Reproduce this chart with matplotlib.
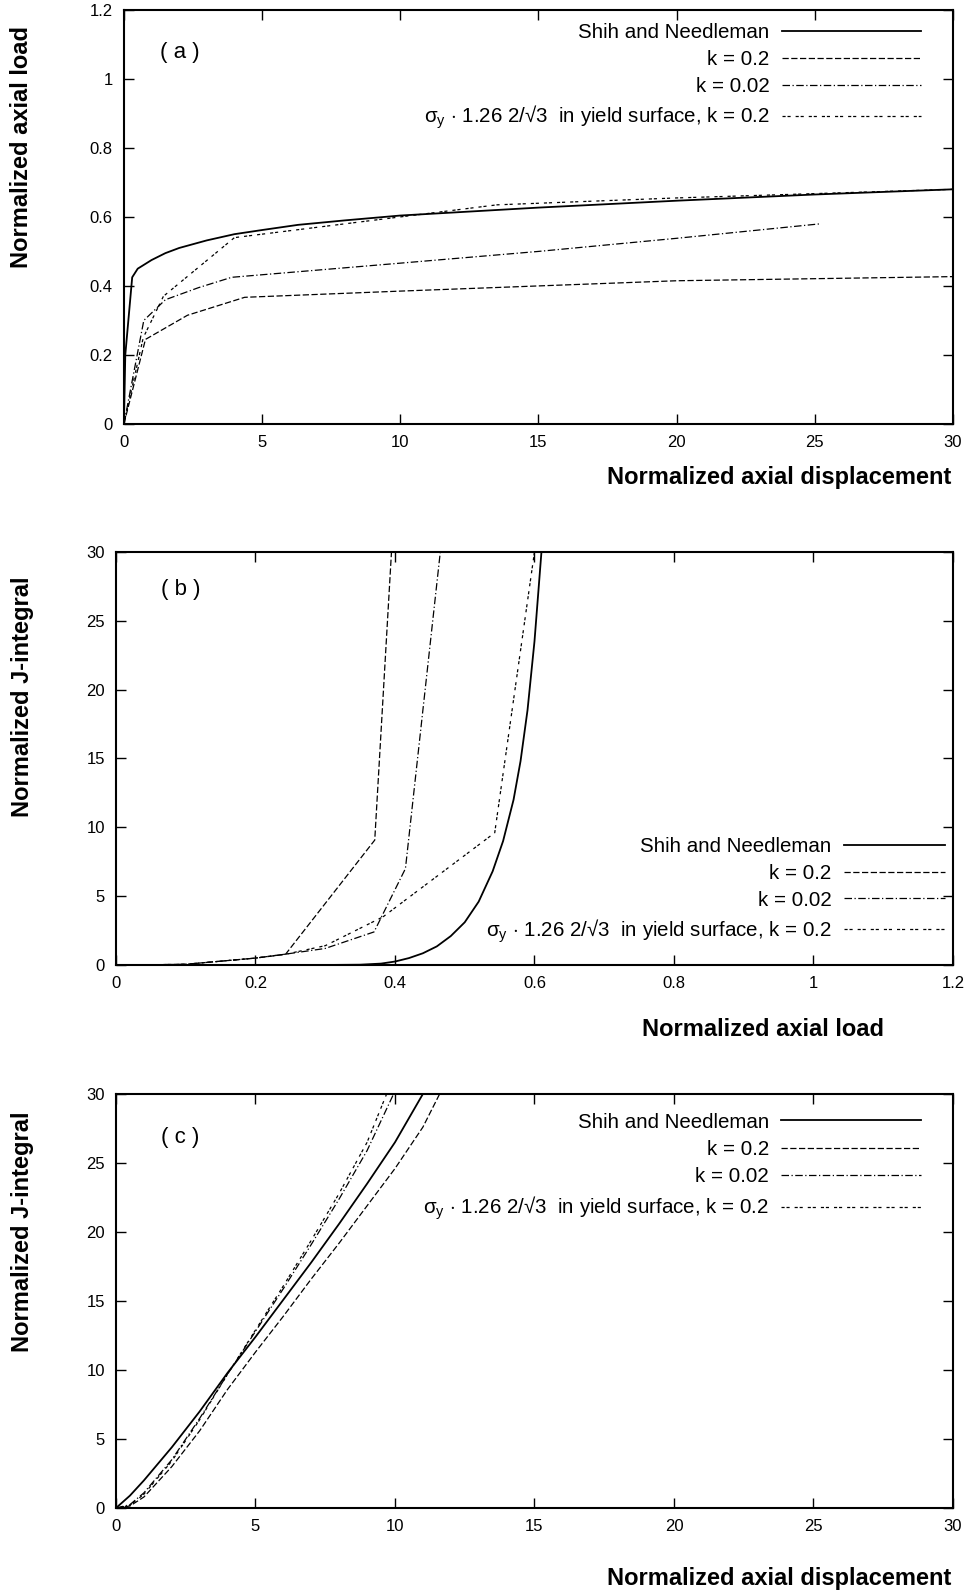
import matplotlib
matplotlib.use("Agg")
import matplotlib.pyplot as plt

plt.rcParams['font.family'] = ['Liberation Sans', 'DejaVu Sans']
plt.rcParams['mathtext.fontset'] = 'custom'
plt.rcParams['mathtext.rm'] = 'Liberation Sans'
plt.rcParams['mathtext.it'] = 'Liberation Sans:italic'

# labels
lab_shih = 'Shih and Needleman'
lab_k02 = 'k = 0.2'
lab_k002 = 'k = 0.02'
lab_sig = 'σ$_{\\rm y}$ $\\cdot$ 1.26 2/√3  in yield surface, k = 0.2'

# (a) axial load vs axial displacement
a_shih_x = [0, 0.05, 0.3, 0.5, 1.0, 1.5, 2.0, 3.0, 4.0, 5.0, 6.3, 8.0, 10, 15, 20, 25, 30]
a_shih_y = [0, 0.2, 0.425, 0.45, 0.475, 0.495, 0.51, 0.532, 0.55, 0.562, 0.577, 0.59, 0.604, 0.627, 0.647, 0.665, 0.68]
a_k02_x = [0, 0.78, 2.3, 4.37, 10, 20, 30]
a_k02_y = [0, 0.245, 0.315, 0.367, 0.385, 0.415, 0.427]
a_k002_x = [0, 0.72, 1.5, 2.7, 3.9, 10, 15, 20, 25.2]
a_k002_y = [0, 0.3, 0.36, 0.395, 0.425, 0.466, 0.5, 0.538, 0.58]
a_sig_x = [0, 0.7, 1.43, 4.0, 13.5, 20, 30]
a_sig_y = [0, 0.25, 0.37, 0.54, 0.635, 0.655, 0.68]

# (b) J-integral vs axial load
b_shih_x = [0.3, 0.35, 0.38, 0.4, 0.42, 0.44, 0.46, 0.48, 0.5, 0.52, 0.54, 0.555, 0.57, 0.58, 0.59, 0.6, 0.61]
b_shih_y = [0, 0.02, 0.1, 0.25, 0.5, 0.85, 1.35, 2.1, 3.1, 4.6, 6.8, 9.0, 12.0, 14.8, 18.5, 23.5, 30]
b_k02_x = [0.03, 0.1, 0.2, 0.243, 0.371, 0.395]
b_k02_y = [0, 0.05, 0.5, 0.77, 9.07, 30]
b_k002_x = [0.03, 0.1, 0.2, 0.245, 0.3, 0.37, 0.415, 0.465]
b_k002_y = [0, 0.05, 0.5, 0.8, 1.2, 2.4, 7.0, 30]
b_sig_x = [0.03, 0.1, 0.2, 0.245, 0.3, 0.383, 0.543, 0.6]
b_sig_y = [0, 0.05, 0.5, 0.8, 1.4, 3.5, 9.6, 30]

# (c) J-integral vs axial displacement
c_shih_x = [0, 0.5, 1, 2, 3, 4, 5, 6, 7, 8, 9, 10, 11.0]
c_shih_y = [0, 0.9, 2.0, 4.4, 7.0, 9.8, 12.4, 15.1, 17.8, 20.6, 23.5, 26.5, 30]
c_k02_x = [0, 0.5, 1, 2, 3, 4, 5, 6, 7, 8, 9, 10, 11, 11.6]
c_k02_y = [0, 0.15, 0.8, 3.0, 5.6, 8.6, 11.3, 13.9, 16.6, 19.2, 21.9, 24.6, 27.6, 30]
c_k002_x = [0, 0.5, 1, 2, 3, 4, 5, 6, 7, 8, 9, 9.95]
c_k002_y = [0, 0.25, 1.1, 3.5, 6.5, 9.7, 12.8, 15.9, 19.1, 22.4, 25.9, 30]
c_sig_x = [0, 0.5, 1, 2, 3, 4, 5, 6, 7, 8, 9, 9.7]
c_sig_y = [0, 0.2, 1.0, 3.4, 6.4, 9.7, 12.9, 16.1, 19.4, 22.8, 26.5, 30]

styles = {
    'shih': dict(color='black', lw=1.3, linestyle='-'),
    'k02': dict(color='black', lw=0.9, dashes=(5, 2)),
    'k002': dict(color='black', lw=0.9, dashes=(6, 2, 1, 2)),
    'sig': dict(color='black', lw=0.9, dashes=(2.5, 1.5, 2.5, 4)),
}

fig = plt.figure(figsize=(9.68, 15.95), dpi=100)
ax_a = fig.add_axes([0.128, 0.7342, 0.8564, 0.2596])
ax_b = fig.add_axes([0.1198, 0.395, 0.8647, 0.259])
ax_c = fig.add_axes([0.1198, 0.0545, 0.8647, 0.2596])


def style_axes(ax):
    ax.tick_params(direction='in', top=True, right=True, length=7, width=1,
                   labelsize=12, pad=8)
    for s in ax.spines.values():
        s.set_linewidth(1.5)


def draw(ax, data, legend_anchor, handlelen, spacing=0.38):
    for key, lab in [('shih', lab_shih), ('k02', lab_k02), ('k002', lab_k002), ('sig', lab_sig)]:
        x, y = data[key]
        ax.plot(x, y, label=lab, **styles[key])
    ax.legend(loc='upper right', bbox_to_anchor=legend_anchor, frameon=False,
              markerfirst=False, fontsize=14.8, handlelength=handlelen,
              handletextpad=0.6, labelspacing=spacing, borderaxespad=0, borderpad=0)


# panel (a)
draw(ax_a, {'shih': (a_shih_x, a_shih_y), 'k02': (a_k02_x, a_k02_y),
            'k002': (a_k002_x, a_k002_y), 'sig': (a_sig_x, a_sig_y)},
     (0.962, 0.968), 6.8)
ax_a.set_xlim(0, 30)
ax_a.set_ylim(0, 1.2)
ax_a.set_xticks([0, 5, 10, 15, 20, 25, 30])
ax_a.set_yticks([0, 0.2, 0.4, 0.6, 0.8, 1.0, 1.2])
ax_a.set_yticklabels(['0', '0.2', '0.4', '0.6', '0.8', '1', '1.2'])
style_axes(ax_a)
ax_a.text(0.043, 0.896, '( a )', transform=ax_a.transAxes, fontsize=16, va='center')
ax_a.text(0.998, -0.130, 'Normalized axial displacement', transform=ax_a.transAxes,
          fontsize=17, fontweight='bold', ha='right', va='center')
ax_a.text(-0.123, 0.669, 'Normalized axial load', transform=ax_a.transAxes,
          fontsize=17, fontweight='bold', ha='center', va='center', rotation=90)

# panel (b)
draw(ax_b, {'shih': (b_shih_x, b_shih_y), 'k02': (b_k02_x, b_k02_y),
            'k002': (b_k002_x, b_k002_y), 'sig': (b_sig_x, b_sig_y)},
     (0.99, 0.31), 4.9)
ax_b.set_xlim(0, 1.2)
ax_b.set_ylim(0, 30)
ax_b.set_xticks([0, 0.2, 0.4, 0.6, 0.8, 1.0, 1.2])
ax_b.set_xticklabels(['0', '0.2', '0.4', '0.6', '0.8', '1', '1.2'])
ax_b.set_yticks([0, 5, 10, 15, 20, 25, 30])
style_axes(ax_b)
ax_b.text(0.054, 0.908, '( b )', transform=ax_b.transAxes, fontsize=16, va='center')
ax_b.text(0.773, -0.157, 'Normalized axial load', transform=ax_b.transAxes,
          fontsize=17, fontweight='bold', ha='center', va='center')
ax_b.text(-0.112, 0.649, 'Normalized J-integral', transform=ax_b.transAxes,
          fontsize=17, fontweight='bold', ha='center', va='center', rotation=90)

# panel (c)
draw(ax_c, {'shih': (c_shih_x, c_shih_y), 'k02': (c_k02_x, c_k02_y),
            'k002': (c_k002_x, c_k002_y), 'sig': (c_sig_x, c_sig_y)},
     (0.962, 0.955), 6.8, spacing=0.41)
ax_c.set_xlim(0, 30)
ax_c.set_ylim(0, 30)
ax_c.set_xticks([0, 5, 10, 15, 20, 25, 30])
ax_c.set_yticks([0, 5, 10, 15, 20, 25, 30])
style_axes(ax_c)
ax_c.text(0.054, 0.896, '( c )', transform=ax_c.transAxes, fontsize=16, va='center')
ax_c.text(0.998, -0.171, 'Normalized axial displacement', transform=ax_c.transAxes,
          fontsize=17, fontweight='bold', ha='right', va='center')
ax_c.text(-0.112, 0.667, 'Normalized J-integral', transform=ax_c.transAxes,
          fontsize=17, fontweight='bold', ha='center', va='center', rotation=90)

fig.savefig('out.png', dpi=100)
